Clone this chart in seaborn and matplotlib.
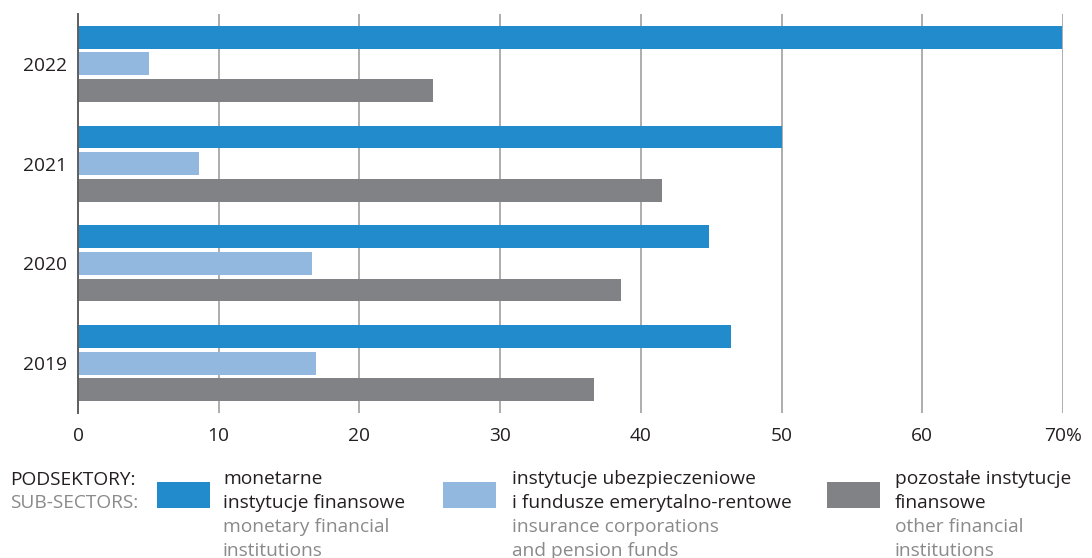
import matplotlib
matplotlib.use("Agg")
import matplotlib.pyplot as plt
import seaborn as sns
import pandas as pd
from matplotlib.patches import Rectangle

years = ["2022", "2021", "2020", "2019"]
series = ["monetarne instytucje finansowe",
          "instytucje ubezpieczeniowe i fundusze emerytalno-rentowe",
          "pozostałe instytucje finansowe"]
monetary = [69.9, 50.0, 44.85, 46.4]
insurance = [5.05, 8.6, 16.6, 16.9]
other = [25.2, 41.5, 38.6, 36.7]
xticks = [0, 10, 20, 30, 40, 50, 60, 70]
xticklabels = ["0", "10", "20", "30", "40", "50", "60", "70%"]
colors = ["#228BCB", "#92B8E0", "#818286"]

legend_pl = [["monetarne", "instytucje finansowe"],
             ["instytucje ubezpieczeniowe", "i fundusze emerytalno-rentowe"],
             ["pozostałe instytucje", "finansowe"]]
legend_en = [["monetary financial", "institutions"],
             ["insurance corporations", "and pension funds"],
             ["other financial", "institutions"]]

rows = []
for vals, s in zip([monetary, insurance, other], series):
    for y, v in zip(years, vals):
        rows.append({"year": y, "series": s, "value": v})
df = pd.DataFrame(rows)

sns.set_theme(style="white")
FONT = ["Open Sans", "DejaVu Sans"]
plt.rcParams["font.family"] = FONT

W, H = 1092, 558
fig = plt.figure(figsize=(W / 100, H / 100), dpi=100)
ax = fig.add_axes([78 / W, (H - 413) / H, (1063 - 78) / W, (413 - 14) / H])

sns.barplot(data=df, y="year", x="value", hue="series", order=years,
            hue_order=series, palette=colors, orient="h", width=0.8,
            gap=0.14, saturation=1, legend=False, ax=ax, zorder=3,
            linewidth=0, edgecolor="none")

ax.set_xlim(0, 70)
ax.set_ylim(3.5, -0.5)
ax.set_xticks(xticks)
ax.set_xticklabels(xticklabels)
ax.xaxis.grid(True, color="#a0a0a0", linewidth=1.2, zorder=0)
ax.set_axisbelow(True)
ax.set_xlabel("")
ax.set_ylabel("")
for s in ["top", "right", "bottom"]:
    ax.spines[s].set_visible(False)
ax.spines["left"].set_color("#5f5f5f")
ax.spines["left"].set_linewidth(1.4)
ax.spines["left"].set_zorder(5)
fs = 13.8
ax.tick_params(axis="both", length=0, labelsize=fs, labelcolor="#231F20")
ax.tick_params(axis="y", pad=8)
ax.tick_params(axis="x", pad=10)

dark = "#231F20"
grey_txt = "#8a8a8c"
fig.text(10 / W, 1 - 485 / H, "PODSEKTORY:", fontsize=fs, color=dark, va="baseline", ha="left")
fig.text(10 / W, 1 - 508 / H, "SUB-SECTORS:", fontsize=fs, color=grey_txt, va="baseline", ha="left")

sq_x = [157, 443, 827]
txt_x = [223, 512, 895]
baselines = [484, 508, 532, 556]
for i in range(3):
    fig.add_artist(Rectangle((sq_x[i] / W, 1 - 508 / H), 53 / W, 26 / H,
                             transform=fig.transFigure, color=colors[i], lw=0))
    lines = legend_pl[i] + legend_en[i]
    cols = [dark, dark, grey_txt, grey_txt]
    for ln, b, c in zip(lines, baselines, cols):
        fig.text(txt_x[i] / W, 1 - b / H, ln, fontsize=fs, color=c,
                 va="baseline", ha="left")

fig.savefig("out.png", dpi=100)
